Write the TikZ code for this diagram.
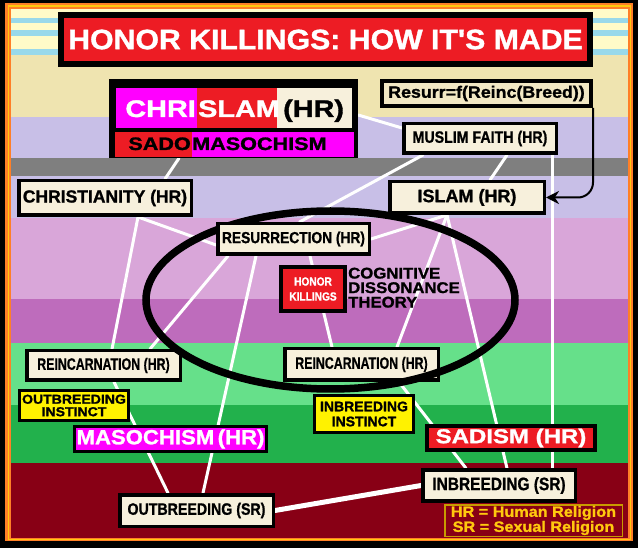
\documentclass[tikz,border=0pt]{standalone}
\usepackage{fontspec}
\setmainfont{Liberation Sans}[BoldFeatures={FakeBold=1.2}]
\setsansfont{Liberation Sans}[BoldFeatures={FakeBold=1.2}]
\newfontfamily\wideA{Liberation Sans}[FakeStretch=1.2, BoldFeatures={FakeBold=1.4}]
\newfontfamily\wideB{Liberation Sans}[FakeStretch=1.08, BoldFeatures={FakeBold=1.2}]
\newfontfamily\semiN{Liberation Sans}[FakeStretch=0.86, BoldFeatures={FakeBold=1}]
\newfontfamily\narrowN{Liberation Sans}[FakeStretch=0.75, BoldFeatures={FakeBold=0.6}]
\usepackage{xcolor}
\usepackage{tikz}
\usetikzlibrary{arrows.meta}
\pgfdeclarelayer{bands}
\pgfdeclarelayer{wires}
\pgfsetlayers{bands,wires,main}

\definecolor{hkred}{HTML}{ED1C24}
\definecolor{hkmag}{HTML}{FF00FF}
\definecolor{hkcream}{HTML}{F7F0DC}
\definecolor{hkbeige}{HTML}{F2E8C4}
\definecolor{hkyellow}{HTML}{FFF200}
\definecolor{hktan}{HTML}{EFE4B0}
\definecolor{hklemon}{HTML}{FFFBC8}
\definecolor{hkblue}{HTML}{99D9EA}
\definecolor{hklav}{HTML}{C8BFE7}
\definecolor{hkgray}{HTML}{7F7F7F}
\definecolor{hkpink}{HTML}{D9A6D9}
\definecolor{hkpurple}{HTML}{BE6CBC}
\definecolor{hklgreen}{HTML}{66E08A}
\definecolor{hkgreen}{HTML}{22B14C}
\definecolor{hkdred}{HTML}{880015}
\definecolor{hkorange}{HTML}{FF7F27}
\definecolor{hkgold}{HTML}{FFC90E}
\definecolor{hkrim}{HTML}{C89B00}

\newcommand{\hksize}[2]{\fontsize{#1}{#2}\selectfont}

\begin{document}
\begin{tikzpicture}[x=1pt, y=-1pt,
    box/.style={draw=black, line width=3.5pt, fill=hkcream, inner sep=0pt},
    wire/.style={white, line width=3pt, line cap=round}]
    % frame and coloured bands
    \begin{pgfonlayer}{bands}
    \fill[black] (0,0) rectangle (638,548);
    \fill[hkorange] (5,3) rectangle (633,541);
    \fill[hkgold] (7.5,5.5) rectangle (630.5,539.5);
    \fill[hkorange] (9,7) rectangle (629.5,538.5);
    \fill[hklemon] (11,9) rectangle (628,55);
    \fill[hkblue] (11,18) rectangle (628,23);
    \fill[hkblue] (11,30) rectangle (628,36);
    \fill[hkblue] (11,49) rectangle (628,55);
    \fill[hktan] (11,55) rectangle (628,117);
    \fill[hklav] (11,117) rectangle (628,158);
    \fill[hkgray] (11,158) rectangle (628,176);
    \fill[hklav] (11,176) rectangle (628,218);
    \fill[hkpink] (11,218) rectangle (628,299);
    \fill[hkpurple] (11,299) rectangle (628,343);
    \fill[hklgreen] (11,343) rectangle (628,405);
    \fill[hkgreen] (11,405) rectangle (628,463);
    \fill[hkdred] (11,463) rectangle (628,538);
    \end{pgfonlayer}

    \node[draw=black, line width=6pt, fill=hkred, minimum width=529pt, minimum height=49pt, %
        inner sep=0pt, text=white, font=\wideB\bfseries\hksize{28}{30}] (title) at (325.5,39.5) %
        {HONOR KILLINGS: HOW IT'S MADE};

    \node[fill=black, minimum width=249pt, minimum height=79pt, inner sep=0pt] (chrislam) at (233.5,118.5) {};
    \fill[hkmag] (116,88) rectangle (197,128);
    \fill[hkred] (197,88) rectangle (277,128);
    \fill[hkcream] (277,88) rectangle (352,128);
    \fill[hkred] (115,132) rectangle (192,157);
    \fill[hkmag] (192,132) rectangle (354,157);
    \node[anchor=base east, inner sep=0pt, text=white, font=\wideA\bfseries\hksize{24}{26}] (chri) at (196,117) {CHRI};
    \node[anchor=base west, inner sep=0pt, text=white, font=\wideA\bfseries\hksize{24}{26}] (slam) at (198,117) {SLAM};
    \node[anchor=base west, inner sep=0pt, font=\wideA\bfseries\hksize{24}{26}] (chrhr) at (283,117) {(HR)};
    \node[anchor=base east, inner sep=0pt, font=\wideA\bfseries\hksize{18}{20}] (sadotxt) at (191,150) {SADO};
    \node[anchor=base west, inner sep=0pt, font=\wideA\bfseries\hksize{18}{20}] (masotxt) at (192,150) {MASOCHISM};

    \node[box, line width=4pt, fill=hkbeige, minimum width=209pt, minimum height=25pt, %
        font=\wideB\bfseries\hksize{16.5}{18}] (resurr) at (486.5,93.5) {Resurr=f(Reinc(Breed))};
    \node[box, minimum width=152.5pt, minimum height=29.5pt, font=\semiN\bfseries\hksize{16.5}{18}] %
        (muslim) at (480,138.5) {MUSLIM FAITH (HR)};
    \node[box, minimum width=172.5pt, minimum height=34.5pt, font=\bfseries\hksize{17.5}{19}] %
        (christianity) at (105,198) {CHRISTIANITY (HR)};

    \node[box, minimum width=153.5pt, minimum height=29.5pt, font=\narrowN\bfseries\hksize{16.5}{18}] %
        (reincL) at (103.5,365.5) {REINCARNATION (HR)};
    \node[box, minimum width=153.5pt, minimum height=31.5pt, font=\narrowN\bfseries\hksize{16.5}{18}] %
        (reincR) at (361.5,364.5) {REINCARNATION (HR)};

    \draw[line width=7.5pt] (330.5,300) ellipse [x radius=184.5, y radius=89];

    \node[box, minimum width=154.5pt, minimum height=31.5pt, font=\bfseries\hksize{18}{20}] %
        (islam) at (467,197.5) {ISLAM (HR)};
    \node[box, minimum width=151.5pt, minimum height=30.5pt, font=\semiN\bfseries\hksize{16}{18}] %
        (resurrection) at (293.5,239) {RESURRECTION (HR)};
    \node[box, line width=4pt, fill=hkred, minimum width=64pt, minimum height=44pt, align=center, %
        text=white, font=\semiN\bfseries\hksize{11.8}{15}] (honor) at (313,289) {HONOR\\KILLINGS};
    \node[anchor=north west, inner sep=0pt, align=left, font=\wideB\bfseries\hksize{15.5}{14.5}] %
        (cdt) at (348,267.5) {COGNITIVE\\DISSONANCE\\THEORY};

    \node[box, line width=3pt, fill=hkyellow, minimum width=109pt, minimum height=30pt, align=center, %
        font=\wideB\bfseries\hksize{13}{12.5}] (outinst) at (74,405.5) {OUTBREEDING\\INSTINCT};
    \node[box, line width=3pt, fill=hkmag, minimum width=192pt, minimum height=25pt, text=white, %
        font=\wideB\bfseries\hksize{20.5}{22}] (masochism) at (170.5,439) {MASOCHISM\,(HR)};
    \node[box, line width=3pt, fill=hkyellow, minimum width=99pt, minimum height=37pt, align=center, %
        font=\bfseries\hksize{14}{15}] (ininst) at (364,414) {INBREEDING\\INSTINCT};
    \node[box, line width=4pt, fill=hkred, minimum width=168pt, minimum height=24pt, text=white, %
        font=\wideA\bfseries\hksize{20}{22}] (sadism) at (511,438) {SADISM (HR)};
    \node[box, minimum width=152.5pt, minimum height=31pt, font=\semiN\bfseries\hksize{18}{20}] %
        (inbreedSR) at (499,485.5) {INBREEDING (SR)};
    \node[box, minimum width=153.5pt, minimum height=31.5pt, font=\semiN\bfseries\hksize{16.5}{18}] %
        (outbreedSR) at (196.5,510.5) {OUTBREEDING (SR)};
    \node[draw=hkrim, line width=1.5pt, fill=hkdred, minimum width=177.5pt, minimum height=31.5pt, %
        inner sep=0pt, align=center, text=hkgold, font=\wideB\bfseries\hksize{15}{13.5}] (legend) %
        at (533.5,520.5) {HR = Human Religion\\SR = Sexual Religion};

    \draw[line width=2pt, rounded corners=15pt, -{Stealth[length=13pt, width=13pt]}] %
        (resurr.south east) |- (islam.east);

    % white links, under the boxes
    \begin{pgfonlayer}{wires}
    \draw[wire] ([yshift=3.5pt]chrislam.east) -- ([yshift=10.5pt]muslim.west);
    \draw[wire] ([xshift=-54.5pt]chrislam.south) -- ([xshift=60pt]christianity.north);
    \draw[wire] ([xshift=-57pt]muslim.south) -- ([xshift=6pt]resurrection.north);
    \draw[wire] ([xshift=27pt]muslim.south) -- ([xshift=23pt]islam.north);
    \draw[wire] ([xshift=72pt]muslim.south) -- ([xshift=53pt]inbreedSR.north);
    \draw[wire] ([xshift=33pt]christianity.south) -- ([yshift=-6pt]resurrection.west);
    \draw[wire] ([xshift=33pt]christianity.south) -- ([xshift=8.5pt]reincL.north);
    \draw[wire] ([xshift=-20pt]islam.south) -- (resurrection.east);
    \draw[wire] ([xshift=-20pt]islam.south) -- ([xshift=35.5pt]reincR.north);
    \draw[wire] ([xshift=-20pt]islam.south) -- ([xshift=8pt]inbreedSR.north);
    \draw[wire] ([xshift=-65.5pt]resurrection.south) -- ([xshift=46.5pt]reincL.north);
    \draw[wire] ([xshift=-37.5pt]resurrection.south) -- ([xshift=6.5pt]outbreedSR.north);
    \draw[wire] ([xshift=16.5pt]resurrection.south) -- ([xshift=-29.5pt]reincR.north);
    \draw[wire] ([xshift=10.5pt]reincL.south) -- ([xshift=-28.5pt]outbreedSR.north);
    \draw[wire] ([xshift=37.5pt]reincR.south) -- ([xshift=-33pt]inbreedSR.north);
    \draw[wire, line width=5pt] (outbreedSR.east) -- (inbreedSR.west);
    \end{pgfonlayer}
\end{tikzpicture}
\end{document}
